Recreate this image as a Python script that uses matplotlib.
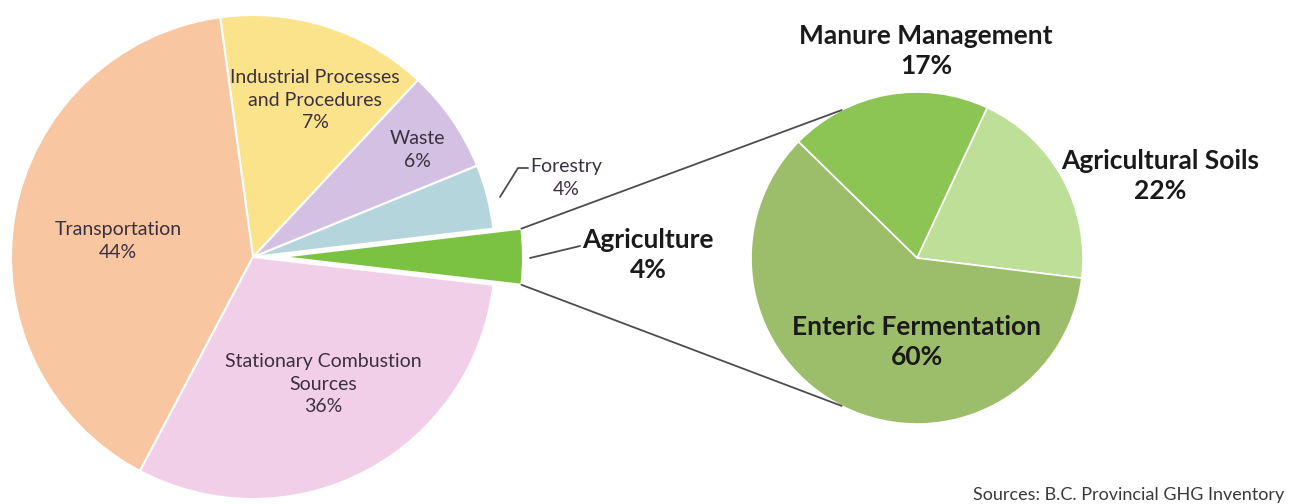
"""
Pie-of-pie: B.C. GHG emissions by sector, with the Agriculture slice broken
out into its three sub-sources.
"""
import numpy as np
import matplotlib
matplotlib.use("Agg")
import matplotlib.pyplot as plt

# ---- data (slice shares as drawn, label text as printed) ----
sectors = ["Agriculture", "Forestry", "Waste", "Industrial Processes\nand Procedures",
           "Transportation", "Stationary Combustion\nSources"]
sector_share = [3.7, 4.3, 6.9, 14.1, 40.1, 30.9]
sector_pct = ["4%", "4%", "6%", "7%", "44%", "36%"]
sector_colors = ["#7cc242", "#b4d5dc", "#d3c0e2", "#fbe38c", "#f8c6a0", "#f2cfe8"]

ag_parts = ["Agricultural Soils", "Manure Management", "Enteric Fermentation"]
ag_share = [20.0, 19.6, 60.4]
ag_pct = ["22%", "17%", "60%"]
ag_colors = ["#bedf98", "#8dc555", "#9cbd6a"]

W, H = 1290, 504
L_C, L_R = (253, 247), 242      # left pie centre / radius (px, y up)
R_C, R_R = (917, 246), 166

plt.rcParams["font.family"] = ["Lato", "DejaVu Sans"]

fig = plt.figure(figsize=(W / 100, H / 100), dpi=100)
ax = fig.add_axes([0, 0, 1, 1])

explode = [28, 0, 0, 0, 0, 0]
lw, _ = ax.pie(sector_share, colors=sector_colors, startangle=-6.6, counterclock=True,
               explode=explode, center=L_C, radius=L_R, frame=True,
               wedgeprops=dict(edgecolor="white", linewidth=1.5))
rw, _ = ax.pie(ag_share, colors=ag_colors, startangle=-7, counterclock=True,
               center=R_C, radius=R_R, frame=True,
               wedgeprops=dict(edgecolor="white", linewidth=1.2))

ax.set_xlim(0, W)
ax.set_ylim(0, H)
ax.set_aspect("equal")
ax.axis("off")

# connector lines from the exploded wedge to the breakout pie
ag = lw[0]
cx, cy = ag.center
r = ag.r
p_top = (cx + r * np.cos(np.radians(ag.theta2)), cy + r * np.sin(np.radians(ag.theta2)))
p_bot = (cx + r * np.cos(np.radians(ag.theta1)), cy + r * np.sin(np.radians(ag.theta1)))
q_top = (R_C[0] + R_R * np.cos(np.radians(117)), R_C[1] + R_R * np.sin(np.radians(117)))
q_bot = (R_C[0] + R_R * np.cos(np.radians(243)), R_C[1] + R_R * np.sin(np.radians(243)))
line_kw = dict(color="#4d4d4d", lw=1.3, solid_capstyle="round")
ax.plot([p_top[0], q_top[0]], [p_top[1], q_top[1]], **line_kw)
ax.plot([p_bot[0], q_bot[0]], [p_bot[1], q_bot[1]], **line_kw)

# leader lines for small-slice labels
ax.plot([530, 580], [H - 258, H - 246], **line_kw)
ax.plot([500, 518, 528], [H - 197, H - 168, H - 168], **line_kw)

# ---- labels ----
lab_kw = dict(ha="center", va="center", color="#3b3040", fontsize=14, linespacing=1.38)
ax.text(315, H - 100, f"{sectors[3]}\n{sector_pct[3]}", **lab_kw)
ax.text(417, H - 150, f"{sectors[2]}\n{sector_pct[2]}", **lab_kw)
ax.text(566, H - 178, f"{sectors[1]}\n{sector_pct[1]}", **lab_kw)
ax.text(118, H - 241, f"{sectors[4]}\n{sector_pct[4]}", **lab_kw)
ax.text(323, H - 384, f"{sectors[5]}\n{sector_pct[5]}", **lab_kw)

bold_kw = dict(ha="center", va="center", color="#1a1a1a", fontsize=19,
               fontweight="bold", linespacing=1.32)
ax.text(648, H - 255, f"{sectors[0]}\n{sector_pct[0]}", **bold_kw)
ax.text(926, H - 51, f"{ag_parts[1]}\n{ag_pct[1]}", **bold_kw)
ax.text(1160, H - 176, f"{ag_parts[0]}\n{ag_pct[0]}", **bold_kw)
ax.text(917, H - 342, f"{ag_parts[2]}\n{ag_pct[2]}", **bold_kw)

ax.text(1284, H - 495, "Sources: B.C. Provincial GHG Inventory", ha="right", va="center",
        color="#3a3a3a", fontsize=13)

fig.savefig("out.png", dpi=100)
